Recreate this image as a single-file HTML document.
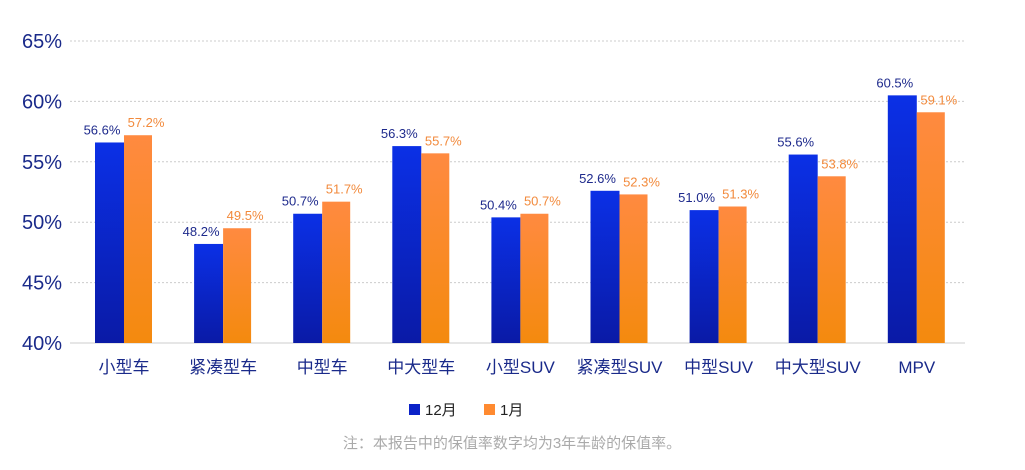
<!DOCTYPE html>
<html><head><meta charset="utf-8"><style>
body{margin:0;background:#fff;width:1025px;height:465px;overflow:hidden;font-family:"Liberation Sans","Noto Sans CJK SC",sans-serif}
</style></head><body>
<svg id="chart" width="1025" height="465" xmlns="http://www.w3.org/2000/svg">
<defs>
<linearGradient id="gb" x1="0" y1="0" x2="0" y2="1"><stop offset="0" stop-color="#0b30e6"/><stop offset="1" stop-color="#0a1aa6"/></linearGradient>
<linearGradient id="go" x1="0" y1="0" x2="0" y2="1"><stop offset="0" stop-color="#ff8a40"/><stop offset="1" stop-color="#f48a0e"/></linearGradient>
</defs>
<g id="grid"></g><g id="bars"></g><g id="labels"></g>
<g>
<rect x="409" y="404" width="11" height="11" fill="#0b22c8"/>
<text x="425" y="415" font-size="15" fill="#222">12月</text>
<rect x="484" y="404" width="11" height="11" fill="#ff8a30"/>
<text x="500" y="415" font-size="15" fill="#222">1月</text>
</g>
<text x="512" y="448" font-size="15" fill="#aaa" text-anchor="middle">注：本报告中的保值率数字均为3年车龄的保值率。</text>
</svg>
<script>
const categories=["小型车","紧凑型车","中型车","中大型车","小型SUV","紧凑型SUV","中型SUV","中大型SUV","MPV"];
const dec=[56.6,48.2,50.7,56.3,50.4,52.6,51.0,55.6,60.5];
const jan=[57.2,49.5,51.7,55.7,50.7,52.3,51.3,53.8,59.1];
const ticks=[40,45,50,55,60,65];
const NS="http://www.w3.org/2000/svg";
const y=v=>343-(v-40)*(302/25);
const cx=i=>124+i*99.1;
function mk(t,a,p){const e=document.createElementNS(NS,t);for(const k in a)e.setAttribute(k,a[k]);p.appendChild(e);return e;}
const G=document.getElementById('grid'),B=document.getElementById('bars'),L=document.getElementById('labels');
ticks.forEach(t=>{
 const l=mk('line',{x1:70,x2:965,y1:y(t),y2:y(t),stroke:t===40?'#ccc':'#ccc','stroke-dasharray':t===40?'':'2,2'},G);
 
 
 const tx=mk('text',{x:62,y:y(t)+7,'font-size':20,fill:'#1a2a8a','text-anchor':'end'},G);
 tx.textContent=t+'%';
 
 
});
categories.forEach((c,i)=>{
 const x=cx(i);
 const b1=mk('rect',{x:x-29,y:y(dec[i]),width:29,height:343-y(dec[i]),fill:'url(#gb)'},B);
 
 
 const b2=mk('rect',{x:x,y:y(jan[i]),width:28,height:343-y(jan[i]),fill:'url(#go)'},B);
 
 
 const t1=mk('text',{x:x-22,y:y(dec[i])-8,'font-size':13,fill:'#1e2a8c','text-anchor':'middle'},L);
 t1.textContent=dec[i].toFixed(1)+'%';
 
 
 const t2=mk('text',{x:x+22,y:y(jan[i])-8,'font-size':13,fill:'#f28a3c','text-anchor':'middle'},L);
 t2.textContent=jan[i].toFixed(1)+'%';
 
 
 const cl=mk('text',{x:x,y:373,'font-size':17,fill:'#1a2a8a','text-anchor':'middle'},L);
 cl.textContent=c;
 
 
});
</script>
</body></html>
